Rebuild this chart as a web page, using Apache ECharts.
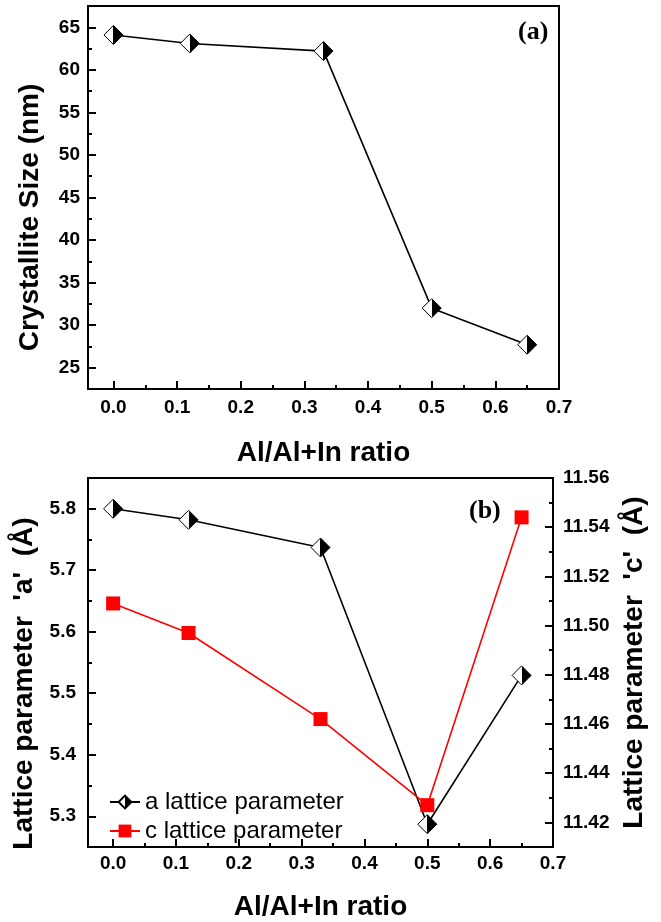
<!DOCTYPE html>
<html>
<head>
<meta charset="utf-8">
<script src="https://cdn.jsdelivr.net/npm/echarts@6/dist/echarts.min.js"></script>
<style>
  html, body { margin: 0; padding: 0; background: #fff; }
  #main { width: 661px; height: 922px; }
</style>
</head>
<body>
<div id="main"></div>
<script>
// Al/(Al+In) ratio of the samples
const ratio = [0, 0.12, 0.33, 0.5, 0.65];
// panel (a)
const crystalliteSize = [64.1, 63.1, 62.2, 32.0, 27.7];
// panel (b)
const latticeA = [5.800, 5.782, 5.737, 5.287, 5.529];
const latticeC = [11.509, 11.497, 11.462, 11.427, 11.544];

// tick values
const xMajor = [0, 0.1, 0.2, 0.3, 0.4, 0.5, 0.6, 0.7];
const xMinor = [0.05, 0.15, 0.25, 0.35, 0.45, 0.55, 0.65];
const sizeMajor = [25, 30, 35, 40, 45, 50, 55, 60, 65];
const sizeMinor = [22.5, 27.5, 32.5, 37.5, 42.5, 47.5, 52.5, 57.5, 62.5, 67.5];
const aMajor = [5.3, 5.4, 5.5, 5.6, 5.7, 5.8];
const aMinor = [5.25, 5.35, 5.45, 5.55, 5.65, 5.75, 5.85];
const cMajor = [11.42, 11.44, 11.46, 11.48, 11.50, 11.52, 11.54, 11.56];
const cMinor = [11.41, 11.43, 11.45, 11.47, 11.49, 11.51, 11.53, 11.55];

const FONT = 'Liberation Sans';
const black = '#000';

// left half open, right half filled
const halfDiamond = new echarts.graphic.LinearGradient(0, 0, 1, 0, [
  {offset: 0, color: '#fff'},
  {offset: 0.5, color: '#fff'},
  {offset: 0.5, color: '#000'},
  {offset: 1, color: '#000'}
]);

function labelStyle(ticks, digits, margin) {
  return {customValues: ticks, color: black, fontFamily: FONT, fontWeight: 'bold',
    fontSize: 19, margin: margin, formatter: v => Number(v).toFixed(digits)};
}

function majorAxis(gridIndex, min, max, ticks, extra) {
  return Object.assign({
    type: 'value',
    gridIndex: gridIndex,
    min: min,
    max: max,
    axisLine: {show: true, onZero: false, lineStyle: {color: black, width: 2}},
    axisTick: {show: true, inside: true, length: 8, customValues: ticks,
      lineStyle: {color: black, width: 2}},
    splitLine: {show: false},
    nameLocation: 'middle',
    nameTextStyle: {color: black, fontFamily: FONT, fontWeight: 'bold', fontSize: 28}
  }, extra);
}

// extra axis only used to draw the short in-between ticks
function minorAxis(gridIndex, min, max, ticks, position) {
  return {
    type: 'value',
    gridIndex: gridIndex,
    position: position,
    min: min,
    max: max,
    axisLine: {show: false, onZero: false},
    axisTick: {show: true, inside: true, length: 4, customValues: ticks,
      lineStyle: {color: black, width: 2}},
    axisLabel: {show: false},
    splitLine: {show: false}
  };
}

const option = {
  backgroundColor: '#fff',
  animation: false,
  title: [
    {text: '(a)', left: 513, top: 14,
      textStyle: {fontFamily: 'Liberation Serif', fontWeight: 'bold', fontSize: 26, color: black}},
    {text: '(b)', left: 464, top: 493,
      textStyle: {fontFamily: 'Liberation Serif', fontWeight: 'bold', fontSize: 26, color: black}}
  ],
  grid: [
    {left: 88, top: 6, width: 471, height: 383, show: true, borderColor: black, borderWidth: 2},
    {left: 88, top: 478, width: 465, height: 378, show: true, borderColor: black, borderWidth: 2}
  ],
  legend: {
    left: 104,
    top: 785,
    orient: 'vertical',
    itemWidth: 30,
    itemHeight: 16,
    itemGap: 5,
    textStyle: {fontFamily: FONT, fontSize: 24, color: black},
    data: ['a lattice parameter', 'c lattice parameter']
  },
  xAxis: [
    majorAxis(0, -0.04, 0.7, xMajor, {position: 'bottom', name: 'Al/Al+In ratio', nameGap: 50,
      axisLabel: labelStyle(xMajor, 1, 9)}),
    minorAxis(0, -0.04, 0.7, xMinor, 'bottom'),
    majorAxis(1, -0.04, 0.7, xMajor, {position: 'bottom', name: 'Al/Al+In ratio', nameGap: 46,
      axisLabel: labelStyle(xMajor, 1, 7)}),
    minorAxis(1, -0.04, 0.7, xMinor, 'bottom')
  ],
  yAxis: [
    majorAxis(0, 22.5, 67.5, sizeMajor, {position: 'left', name: 'Crystallite Size (nm)', nameGap: 44,
      axisLabel: labelStyle(sizeMajor, 0, 8),
      nameTextStyle: {color: black, fontFamily: FONT, fontWeight: 'bold', fontSize: 28,
        padding: [0, 40, 0, 0]}}),
    minorAxis(0, 22.5, 67.5, sizeMinor, 'left'),
    majorAxis(1, 5.25, 5.85, aMajor, {position: 'left', name: "Lattice parameter  'a'  (Å)", nameGap: 49,
      axisLabel: labelStyle(aMajor, 1, 12),
      nameTextStyle: {color: black, fontFamily: FONT, fontWeight: 'bold', fontSize: 28,
        padding: [0, 42, 0, 0]}}),
    minorAxis(1, 5.25, 5.85, aMinor, 'left'),
    majorAxis(1, 11.41, 11.56, cMajor, {position: 'right', name: "Lattice parameter  'c'  (Å)", nameGap: 65,
      axisLabel: labelStyle(cMajor, 2, 10)}),
    minorAxis(1, 11.41, 11.56, cMinor, 'right')
  ],
  series: [
    {
      name: 'crystallite size',
      type: 'line',
      xAxisIndex: 0,
      yAxisIndex: 0,
      data: ratio.map((x, i) => [x, crystalliteSize[i]]),
      symbol: 'diamond',
      symbolSize: 19,
      lineStyle: {color: black, width: 1.6},
      itemStyle: {color: halfDiamond, borderColor: black, borderWidth: 1},
      emphasis: {disabled: true},
      z: 3
    },
    {
      name: 'a lattice parameter',
      type: 'line',
      xAxisIndex: 2,
      yAxisIndex: 2,
      data: ratio.map((x, i) => [x, latticeA[i]]),
      symbol: 'diamond',
      symbolSize: 19,
      lineStyle: {color: black, width: 1.6},
      itemStyle: {color: halfDiamond, borderColor: black, borderWidth: 1},
      emphasis: {disabled: true},
      z: 3
    },
    {
      name: 'c lattice parameter',
      type: 'line',
      xAxisIndex: 2,
      yAxisIndex: 4,
      data: ratio.map((x, i) => [x, latticeC[i]]),
      symbol: 'rect',
      symbolSize: 14,
      lineStyle: {color: '#ff0000', width: 1.6},
      itemStyle: {color: '#ff0000'},
      emphasis: {disabled: true},
      z: 4
    }
  ]
};

const myChart = echarts.init(document.getElementById('main'));
myChart.setOption(option);
</script>
</body>
</html>
